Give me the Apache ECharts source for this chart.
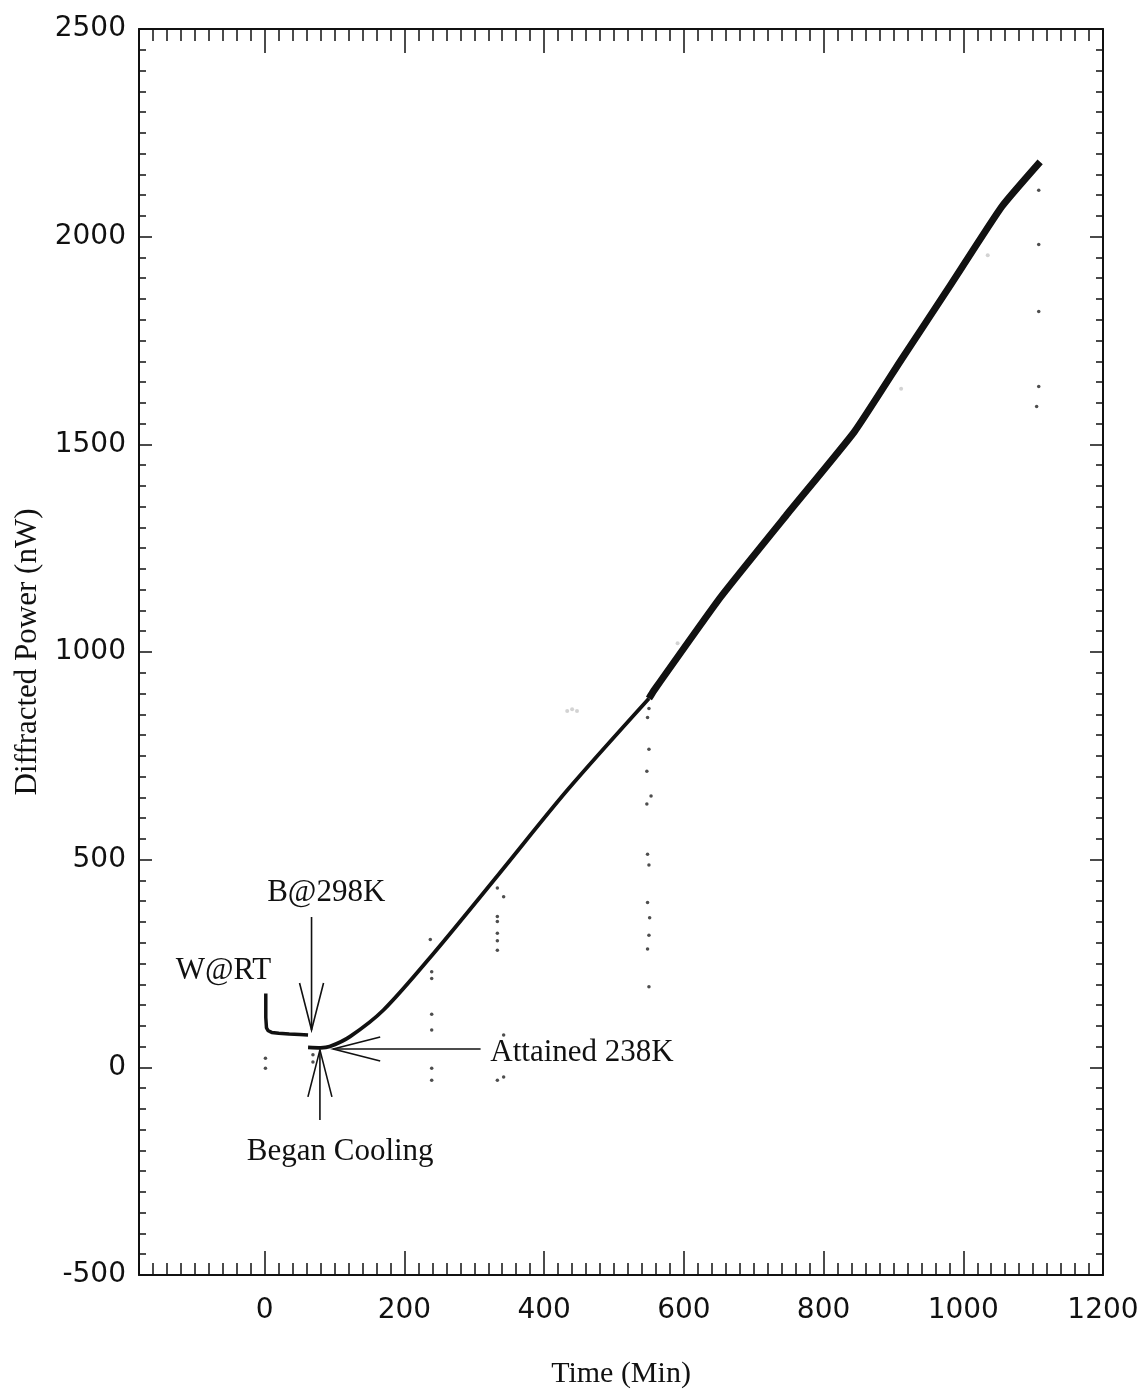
<!DOCTYPE html>
<html>
<head>
<meta charset="utf-8">
<script src="https://cdn.jsdelivr.net/npm/echarts@6/dist/echarts.min.js"></script>
<style>
html,body{margin:0;padding:0;background:#fff;}
#c{width:1146px;height:1389px;}
</style>
</head>
<body>
<div id="c"></div>
<script>
// ---- Data ----
const xMajorTicks = [0, 200, 400, 600, 800, 1000, 1200];
const yTicks = [-500, 0, 500, 1000, 1500, 2000, 2500];

// W@RT segment
const wartX = [1.5, 1.5, 2.5, 5, 10, 20, 35, 50, 62];
const wartY = [178, 120, 95, 88, 84, 82, 80, 79, 78];

// cooling / early growth segment (thinner trace)
const lowX = [62, 80, 93, 122, 170, 241, 335, 433, 550];
const lowY = [48, 47, 50, 74, 138, 273, 465, 667, 888];

// later growth segment (thick noisy trace)
const highX = [550, 557, 653, 749, 844, 911, 983, 1055, 1110];
const highY = [888, 907, 1133, 1334, 1530, 1703, 1887, 2072, 2180];

// isolated outlier points
const outX = [1, 1, 69, 69,
  237, 239, 239, 239, 239, 239, 239,
  333, 342, 333, 333, 333, 333, 333, 342, 333, 342,
  550, 548, 550, 547, 553, 547, 548, 550, 548, 551, 550, 548, 550,
  1108, 1108, 1108, 1108, 1105];
const outY = [22, -2, 30, 13,
  308, 230, 214, 128, 90, -2, -31,
  432, 411, 363, 351, 323, 305, 282, 78, -31, -23,
  864, 842, 766, 713, 653, 634, 513, 487, 397, 360, 318, 285, 194,
  2112, 1981, 1820, 1639, 1591];

// faint grey points
const greyX = [433, 440, 447, 591, 911, 1035];
const greyY = [858, 862, 858, 1021, 1634, 1955];

// annotations (data coordinates)
const annTexts = ['W@RT', 'B@298K', 'Began Cooling', 'Attained 238K'];
const annTextPos = [[-59, 233], [88, 420], [108, -204], [323, 36]];
const annTextAlign = ['center', 'center', 'center', 'left'];
// arrows: [tipX, tipY, tailX, tailY]
const arrows = [[67, 90, 67, 362], [79, 42, 79, -127], [98, 44, 309, 44]];

// ---- Chart ----
const pair = (xs, ys) => xs.map((x, i) => [x, ys[i]]);
const ink = '#111';
const serif = '"Liberation Serif", "Times New Roman", serif';
const sans = '"DejaVu Sans", sans-serif';
const plain = v => String(v);

function xAxisDef(pos, major) {
  const a = {
    type: 'value', position: pos, min: -180, max: 1200,
    splitLine: {show: false},
    axisLine: {show: major, onZero: false, lineStyle: {color: ink, width: 2}},
    axisTick: {show: true, inside: true, length: major ? 24 : 12, lineStyle: {color: ink, width: 1.5}},
    axisLabel: {show: false}
  };
  if (major) {
    a.axisTick.customValues = xMajorTicks;
    a.axisLabel = {show: pos === 'bottom', customValues: xMajorTicks, formatter: plain,
      fontFamily: sans, fontSize: 28, color: ink, margin: 22};
  } else {
    a.interval = 20;
  }
  return a;
}
function yAxisDef(pos) {
  return {
    type: 'value', position: pos, min: -500, max: 2500, interval: 500,
    splitLine: {show: false},
    axisLine: {show: true, onZero: false, lineStyle: {color: ink, width: 2}},
    axisTick: {show: true, inside: true, length: 13, lineStyle: {color: ink, width: 1.5}},
    minorTick: {show: true, splitNumber: 10, length: 7, lineStyle: {color: ink, width: 1.5}},
    axisLabel: {show: pos === 'left', formatter: plain, fontFamily: sans, fontSize: 28, color: ink, margin: 13}
  };
}

const xAxes = [xAxisDef('bottom', true), xAxisDef('bottom', false), xAxisDef('top', true), xAxisDef('top', false)];
xAxes[0].name = 'Time (Min)';
xAxes[0].nameLocation = 'middle';
xAxes[0].nameGap = 84;
xAxes[0].nameTextStyle = {fontFamily: serif, fontSize: 30, color: ink};
const yAxes = [yAxisDef('left'), yAxisDef('right')];
yAxes[0].name = 'Diffracted Power (nW)';
yAxes[0].nameLocation = 'middle';
yAxes[0].nameGap = 93;
yAxes[0].nameTextStyle = {fontFamily: serif, fontSize: 31, color: ink};

const option = {
  backgroundColor: '#fff',
  animation: false,
  grid: {left: 139, right: 43, top: 29, bottom: 114, containLabel: false, outerBoundsMode: 'none'},
  xAxis: xAxes,
  yAxis: yAxes,
  series: [
    {type: 'scatter', data: pair(greyX, greyY), symbolSize: 4, itemStyle: {color: '#c8c8c8'}},
    {type: 'line', data: pair(wartX, wartY), showSymbol: false, lineStyle: {color: ink, width: 3.5}},
    {type: 'line', data: pair(lowX, lowY), showSymbol: false, smooth: 0.3, lineStyle: {color: ink, width: 3.8}},
    {type: 'line', data: pair(highX, highY), showSymbol: false, smooth: 0.15, lineStyle: {color: ink, width: 7}},
    {type: 'scatter', data: pair(outX, outY), symbolSize: 3.5, itemStyle: {color: '#222'}}
  ]
};

const chart = echarts.init(document.getElementById('c'), null, {renderer: 'canvas'});
chart.setOption(option);

// annotations: positioned from data coordinates
const toPx = p => chart.convertToPixel({xAxisIndex: 0, yAxisIndex: 0}, p);
const graphics = [];
annTexts.forEach((t, i) => {
  const p = toPx(annTextPos[i]);
  graphics.push({type: 'text', x: p[0], y: p[1], silent: true,
    style: {text: t, fontFamily: serif, fontSize: 31, fill: ink, align: annTextAlign[i], verticalAlign: 'middle'}});
});
arrows.forEach(a => {
  const tip = toPx([a[0], a[1]]);
  const tail = toPx([a[2], a[3]]);
  const dx = tail[0] - tip[0], dy = tail[1] - tip[1];
  const L = Math.hypot(dx, dy), ux = dx / L, uy = dy / L;
  const back = 47, side = 12;
  const w1 = [tip[0] + ux * back - uy * side, tip[1] + uy * back + ux * side];
  const w2 = [tip[0] + ux * back + uy * side, tip[1] + uy * back - ux * side];
  const ls = {stroke: ink, lineWidth: 1.6, fill: null};
  graphics.push({type: 'line', silent: true, shape: {x1: tail[0], y1: tail[1], x2: tip[0], y2: tip[1]}, style: ls});
  graphics.push({type: 'polyline', silent: true, shape: {points: [w1, tip, w2]}, style: ls});
});
chart.setOption({graphic: graphics});
</script>
</body>
</html>
